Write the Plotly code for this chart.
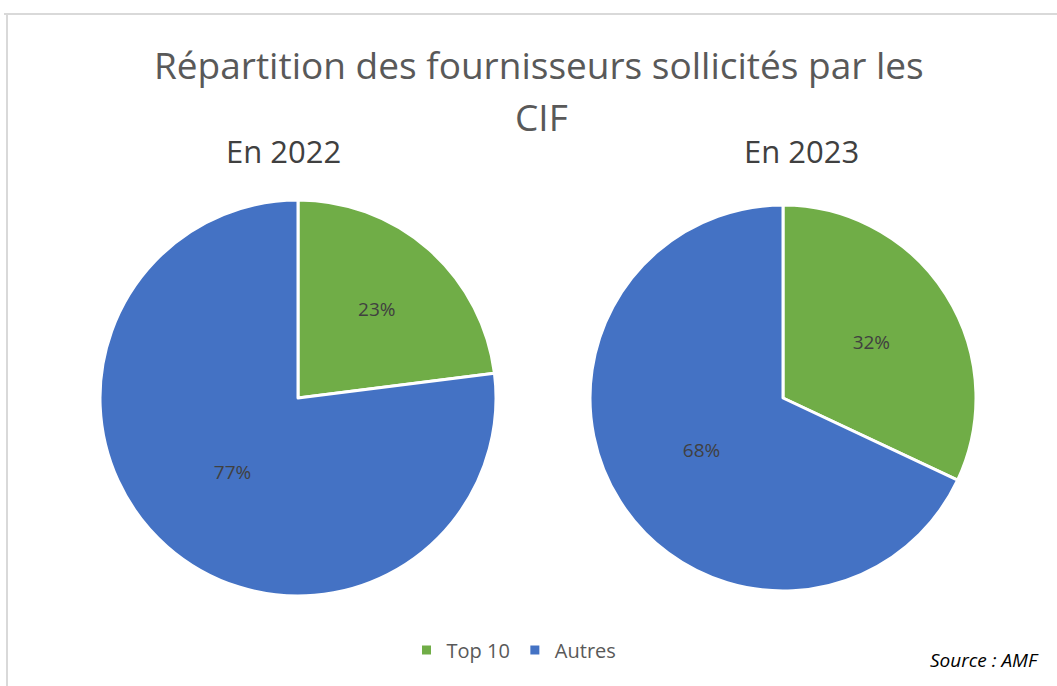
import plotly.graph_objects as go

labels = ["Top 10", "Autres"]
values_2022 = [23, 77]
values_2023 = [32, 68]
colors = ["#70AD47", "#4472C4"]
title_lines = ["Répartition des fournisseurs sollicités par les", "CIF"]
subtitles = ["En 2022", "En 2023"]
source = "Source : AMF"

W, H = 1057, 686
FONT = "Open Sans, sans-serif"

def px_x(x):
    return x / W

def px_y(y):
    return 1 - y / H

def dom(cx, cy, r):
    return dict(x=[px_x(cx - r), px_x(cx + r)], y=[px_y(cy + r), px_y(cy - r)])

fig = go.Figure()
fig.add_trace(go.Pie(
    labels=labels, values=values_2022, sort=False, direction="clockwise", rotation=0,
    marker=dict(colors=colors, line=dict(color="white", width=3)),
    textinfo="percent", textposition="inside", insidetextorientation="horizontal",
    textfont=dict(color="#404040", size=19, family=FONT),
    domain=dom(298, 398, 198), showlegend=True, hoverinfo="label+percent",
))
fig.add_trace(go.Pie(
    labels=labels, values=values_2023, sort=False, direction="clockwise", rotation=0,
    marker=dict(colors=colors, line=dict(color="white", width=3)),
    textinfo="percent", textposition="inside", insidetextorientation="horizontal",
    textfont=dict(color="#404040", size=19, family=FONT),
    domain=dom(783, 398, 193), showlegend=False, hoverinfo="label+percent",
))

ann = []
ann.append(dict(text=title_lines[0], x=px_x(539), y=px_y(65), xref="paper", yref="paper",
                showarrow=False, font=dict(size=37, color="#595959", family=FONT),
                xanchor="center", yanchor="middle"))
ann.append(dict(text=title_lines[1], x=px_x(541), y=px_y(117), xref="paper", yref="paper",
                showarrow=False, font=dict(size=37, color="#595959", family=FONT),
                xanchor="center", yanchor="middle"))
ann.append(dict(text=subtitles[0], x=px_x(283), y=px_y(151), xref="paper", yref="paper",
                showarrow=False, font=dict(size=31, color="#404040", family=FONT),
                xanchor="center", yanchor="middle"))
ann.append(dict(text=subtitles[1], x=px_x(801), y=px_y(151), xref="paper", yref="paper",
                showarrow=False, font=dict(size=31, color="#404040", family=FONT),
                xanchor="center", yanchor="middle"))
ann.append(dict(text="<i>" + source + "</i>", x=px_x(1041), y=px_y(660), xref="paper", yref="paper",
                showarrow=False, font=dict(size=19, color="#000000", family=FONT),
                xanchor="right", yanchor="middle"))

fig.update_layout(
    width=W, height=H,
    margin=dict(l=0, r=0, t=0, b=0),
    paper_bgcolor="white", plot_bgcolor="white",
    annotations=ann,
    legend=dict(orientation="h", x=px_x(514), y=px_y(650), xanchor="center", yanchor="middle",
                font=dict(size=20, color="#595959", family=FONT), traceorder="normal",
                itemwidth=30),
    shapes=[
        dict(type="line", xref="paper", yref="paper", x0=px_x(4), x1=1, y0=px_y(14), y1=px_y(14),
             line=dict(color="#D9D9D9", width=2)),
        dict(type="line", xref="paper", yref="paper", x0=px_x(7), x1=px_x(7), y0=px_y(14), y1=0,
             line=dict(color="#D9D9D9", width=2)),
    ],
)

fig.write_html("out.html", config={"displayModeBar": False},
               post_script="document.body.style.margin='0';document.body.style.overflow='hidden';")
